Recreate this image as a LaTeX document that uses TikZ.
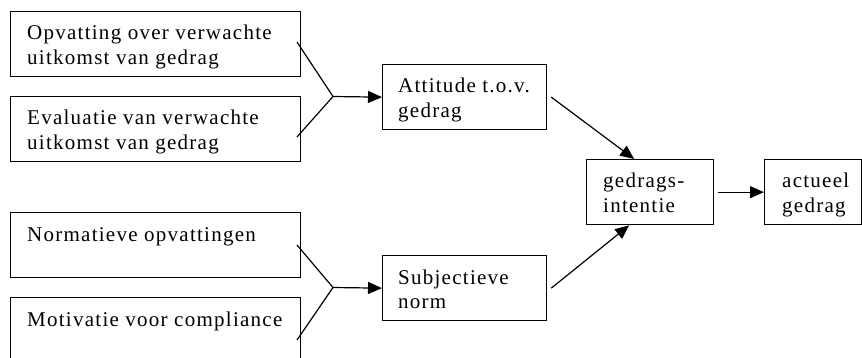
\documentclass[tikz,border=0pt]{standalone}
\usepackage{fontspec}
\setmainfont{Liberation Serif}[LetterSpace=6]
\usetikzlibrary{arrows.meta}
\begin{document}
\begin{tikzpicture}[x=1pt,y=-1pt,
  box/.style={draw,line width=1.3pt,minimum width=#1,minimum height=65pt,inner sep=0pt,anchor=north west},
  txt/.style={anchor=base west,inner sep=0pt,font=\fontsize{21}{24}\selectfont},
  link/.style={line width=1.2pt},
  arr/.style={line width=1.2pt,-{Triangle[length=14pt,width=12pt]}}]
\useasboundingbox (0,0) rectangle (862,358);
% input boxes
\node[box=290pt] (b1) at (10,11) {};
\node[box=290pt] (b2) at (10,96) {};
\node[box=290pt] (b3) at (10,212) {};
\node[box=290pt] (b4) at (10,297) {};
% middle and right boxes
\node[box=164pt] (att) at (382,64) {};
\node[box=164pt] (sub) at (382,255) {};
\node[box=127pt] (ged) at (586,159) {};
\node[box=97pt] (act) at (764,159) {};
% texts
\node[txt] (t1a) at (27,40) {Opvatting over verwachte};
\node[txt] (t1b) at (27,64.5) {uitkomst van gedrag};
\node[txt] (t2a) at (27,125) {Evaluatie van verwachte};
\node[txt] (t2b) at (27,149.5) {uitkomst van gedrag};
\node[txt] (t3a) at (27,241.5) {Normatieve opvattingen};
\node[txt] (t4a) at (27,326.5) {Motivatie voor compliance};
\node[txt] (t5a) at (398,93) {Attitude t.o.v.};
\node[txt] (t5b) at (398,117.5) {gedrag};
\node[txt] (t6a) at (398,284) {Subjectieve};
\node[txt] (t6b) at (398,308.5) {norm};
\node[txt] (t7a) at (603,188) {gedrags-};
\node[txt] (t7b) at (603,212.5) {intentie};
\node[txt] (t8a) at (782,188) {actueel};
\node[txt] (t8b) at (782,212.5) {gedrag};
% fork points
\coordinate (f1a) at (297,42);
\coordinate (f1b) at (297,137);
\coordinate (j1) at (333,96.5);
\coordinate (f2a) at (297,245);
\coordinate (f2b) at (297,340);
\coordinate (j2) at (333,287.5);
\draw[link] (f1a) -- (j1) -- (f1b);
\draw[link] (f2a) -- (j2) -- (f2b);
\draw[arr] (j1) -- (att.west);
\draw[arr] (j2) -- (sub.west);
\draw[arr] ([xshift=4pt]att.east) -- ([xshift=-16pt]ged.north);
\draw[arr] ([xshift=4pt]sub.east) -- ([xshift=-21pt]ged.south);
\draw[arr] ([xshift=4pt]ged.east) -- (act.west);
\end{tikzpicture}
\end{document}
